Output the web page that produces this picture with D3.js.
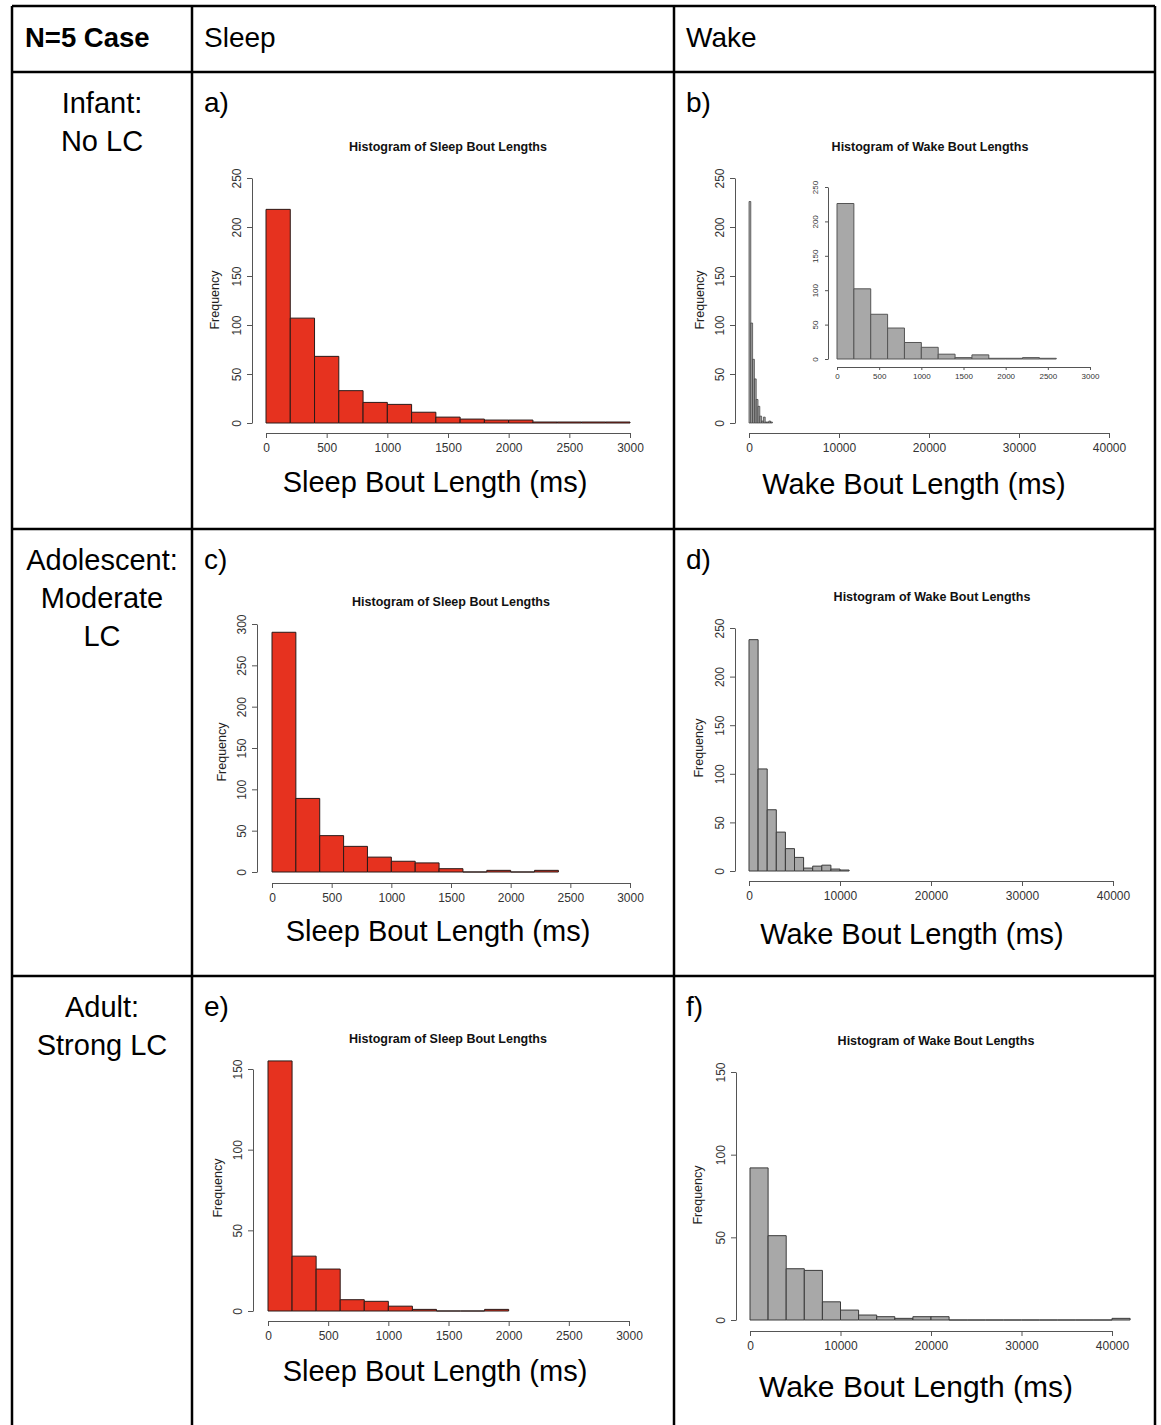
<!DOCTYPE html>
<html>
<head>
<meta charset="utf-8">
<script src="https://cdn.jsdelivr.net/npm/d3@7"></script>
<style>
  body { margin: 0; background: #fff; }
  svg { display: block; font-family: "Liberation Sans", Arial, sans-serif; }
</style>
</head>
<body>
<div id="chart"></div>
<script>
// table text
var headers = ["N=5 Case", "Sleep", "Wake"];
var rowLabels = [["Infant:", "No LC"], ["Adolescent:", "Moderate", "LC"], ["Adult:", "Strong LC"]];
var panelLetters = ["a)", "b)", "c)", "d)", "e)", "f)"];

// histogram counts
var sleepA = [218, 107, 68, 33, 21, 19, 11, 6, 4, 3, 3, 1, 1, 1, 1];   // 200 ms bins
var wakeB = [226, 102, 65, 45, 24, 17, 7, 2, 6, 1, 1, 2, 1];           // 200 ms bins
var sleepC = [290, 89, 44, 31, 18, 13, 11, 4, 0, 2, 0, 2];             // 200 ms bins
var wakeD = [238, 105, 63, 40, 23, 14, 3, 5, 6, 2, 1];                 // 1000 ms bins
var sleepE = [155, 34, 26, 7, 6, 3, 1, 0, 0, 1];                       // 200 ms bins
var wakeF = [92, 51, 31, 30, 11, 6, 3, 2, 1, 2, 2, 0, 0, 0, 0, 0, 0, 0, 0, 0, 1]; // 2000 ms bins

// tick labels
var sleepXTicks = [0, 500, 1000, 1500, 2000, 2500, 3000];
var wakeXTicks = [0, 10000, 20000, 30000, 40000];
var yTicks250 = [0, 50, 100, 150, 200, 250];
var yTicks300 = [0, 50, 100, 150, 200, 250, 300];
var yTicks150 = [0, 50, 100, 150];

var sleepTitle = "Histogram of Sleep Bout Lengths";
var wakeTitle = "Histogram of Wake Bout Lengths";
var sleepXLabel = "Sleep Bout Length (ms)";
var wakeXLabel = "Wake Bout Length (ms)";

var W = 1161, H = 1425;
var red = "#e6321f", grey = "#a8a8a8";

var svg = d3.select("#chart").append("svg").attr("width", W).attr("height", H);

// ---- table grid ----
var grid = svg.append("g").attr("stroke", "#000").attr("stroke-width", 2.5);
var colX = [12, 192, 674, 1155];
var rowY = [6, 72, 529, 976];
colX.forEach(function(x) {
  grid.append("line").attr("x1", x).attr("x2", x).attr("y1", rowY[0]).attr("y2", H);
});
rowY.forEach(function(y) {
  grid.append("line").attr("x1", colX[0]).attr("x2", colX[3]).attr("y1", y).attr("y2", y);
});

// header row
svg.append("text").attr("x", 25).attr("y", 47).attr("font-size", 27.5).attr("font-weight", "bold").text(headers[0]);
svg.append("text").attr("x", 204).attr("y", 47).attr("font-size", 28).text(headers[1]);
svg.append("text").attr("x", 686).attr("y", 47).attr("font-size", 28).text(headers[2]);

// row labels
var rowTop = [113, 570, 1017];
rowLabels.forEach(function(lines, r) {
  lines.forEach(function(t, k) {
    svg.append("text").attr("x", 102).attr("y", rowTop[r] + k * 38)
      .attr("text-anchor", "middle").attr("font-size", 29).text(t);
  });
});

// panel letters
panelLetters.forEach(function(t, i) {
  svg.append("text").attr("x", i % 2 ? 686 : 204).attr("y", rowTop[Math.floor(i / 2)] - 1)
    .attr("font-size", 28).text(t);
});

// ---- histograms ----
function drawHist(p) {
  var x = d3.scaleLinear().domain([0, p.xMax]).range([p.x0, p.x1]);
  var y = d3.scaleLinear().domain([0, p.yMax]).range([p.y0, p.yTop]);
  var g = svg.append("g");

  g.selectAll("path.bar").data(p.counts).join("path")
    .attr("class", "bar")
    .attr("d", function(d, i) {
      return "M" + x(i * p.bin) + "," + y(0) + "V" + y(d) + "H" + x((i + 1) * p.bin) + "V" + y(0) + "Z";
    })
    .attr("fill", p.fill)
    .attr("stroke", p.stroke)
    .attr("stroke-width", p.sw || 1);

  var xa = g.append("g")
    .attr("transform", "translate(0," + p.xAxisY + ")")
    .call(d3.axisBottom(x).tickValues(p.xTicks).tickSize(p.tick).tickSizeOuter(0)
      .tickPadding(p.pad).tickFormat(d3.format("d")));
  var ya = g.append("g")
    .attr("transform", "translate(" + p.yAxisX + ",0)")
    .call(d3.axisLeft(y).tickValues(p.yTicks).tickSize(p.tick).tickSizeOuter(0)
      .tickFormat(d3.format("d")));

  [xa, ya].forEach(function(a) {
    a.attr("font-family", null).attr("font-size", p.fs);
    a.selectAll("path, line").attr("stroke", "#555").attr("stroke-width", 1);
    a.selectAll("text").attr("fill", "#333");
  });
  ya.selectAll("text")
    .attr("x", null).attr("dy", "0.35em").attr("text-anchor", "middle")
    .attr("transform", "translate(" + (-p.yLab) + ",0) rotate(-90)");

  if (p.title) {
    g.append("text").attr("x", p.title[0]).attr("y", p.title[1])
      .attr("text-anchor", "middle").attr("font-weight", "bold").attr("font-size", 12.5)
      .attr("fill", "#111").text(p.titleText);
  }
  if (p.freq) {
    g.append("text").attr("transform", "translate(" + p.freq[0] + "," + p.freq[1] + ") rotate(-90)")
      .attr("dy", "0.35em").attr("text-anchor", "middle").attr("font-size", 12.5)
      .attr("fill", "#222").text("Frequency");
  }
  if (p.xlab) {
    g.append("text").attr("x", p.xlab[0]).attr("y", p.xlab[1])
      .attr("text-anchor", "middle").attr("font-size", p.xlabSize || 29)
      .text(p.xlabText);
  }
}

var sleepStyle = { fill: red, stroke: "#2a1a18", tick: 5, pad: 5, fs: 12, yLab: 15 };
var wakeStyle = { fill: grey, stroke: "#3a3a3a", tick: 5, pad: 5, fs: 12, yLab: 15 };

// a) infant sleep
drawHist(Object.assign({}, sleepStyle, {
  counts: sleepA, bin: 200, xMax: 3000, yMax: 250, xTicks: sleepXTicks, yTicks: yTicks250,
  x0: 266, x1: 630, y0: 423, yTop: 178, xAxisY: 433, yAxisX: 252,
  title: [448, 151], titleText: sleepTitle, freq: [215, 300],
  xlab: [435, 492], xlabText: sleepXLabel
}));

// b) infant wake, full range
drawHist(Object.assign({}, wakeStyle, {
  counts: wakeB, bin: 200, xMax: 40000, yMax: 250, xTicks: wakeXTicks, yTicks: yTicks250,
  x0: 749, x1: 1109, y0: 423, yTop: 178, xAxisY: 433, yAxisX: 735, sw: 0.7,
  title: [930, 151], titleText: wakeTitle, freq: [700, 300],
  xlab: [914, 494], xlabText: wakeXLabel
}));
// b) inset, zoomed on 0-3000
drawHist(Object.assign({}, wakeStyle, {
  counts: wakeB, bin: 200, xMax: 3000, yMax: 250, xTicks: sleepXTicks, yTicks: yTicks250,
  x0: 837, x1: 1090, y0: 359, yTop: 187, xAxisY: 367, yAxisX: 828,
  tick: 3, pad: 3, fs: 8, yLab: 12.5, stroke: "#555"
}));

// c) adolescent sleep
drawHist(Object.assign({}, sleepStyle, {
  counts: sleepC, bin: 200, xMax: 3000, yMax: 300, xTicks: sleepXTicks, yTicks: yTicks300,
  x0: 272, x1: 630, y0: 872, yTop: 624, xAxisY: 883, yAxisX: 257,
  title: [451, 606], titleText: sleepTitle, freq: [222, 752],
  xlab: [438, 941], xlabText: sleepXLabel
}));

// d) adolescent wake
drawHist(Object.assign({}, wakeStyle, {
  counts: wakeD, bin: 1000, xMax: 40000, yMax: 250, xTicks: wakeXTicks, yTicks: yTicks250,
  x0: 749, x1: 1113, y0: 871, yTop: 628, xAxisY: 881, yAxisX: 735,
  title: [932, 601], titleText: wakeTitle, freq: [699, 748],
  xlab: [912, 944], xlabText: wakeXLabel
}));

// e) adult sleep
drawHist(Object.assign({}, sleepStyle, {
  counts: sleepE, bin: 200, xMax: 3000, yMax: 150, xTicks: sleepXTicks, yTicks: yTicks150,
  x0: 268, x1: 629, y0: 1311, yTop: 1069, xAxisY: 1321, yAxisX: 253,
  title: [448, 1043], titleText: sleepTitle, freq: [218, 1188],
  xlab: [435, 1381], xlabText: sleepXLabel
}));

// f) adult wake
drawHist(Object.assign({}, wakeStyle, {
  counts: wakeF, bin: 2000, xMax: 40000, yMax: 150, xTicks: wakeXTicks, yTicks: yTicks150,
  x0: 750, x1: 1112, y0: 1320, yTop: 1072, xAxisY: 1331, yAxisX: 736,
  title: [936, 1045], titleText: wakeTitle, freq: [698, 1195],
  xlab: [916, 1397], xlabText: wakeXLabel, xlabSize: 30
}));
</script>
</body>
</html>
